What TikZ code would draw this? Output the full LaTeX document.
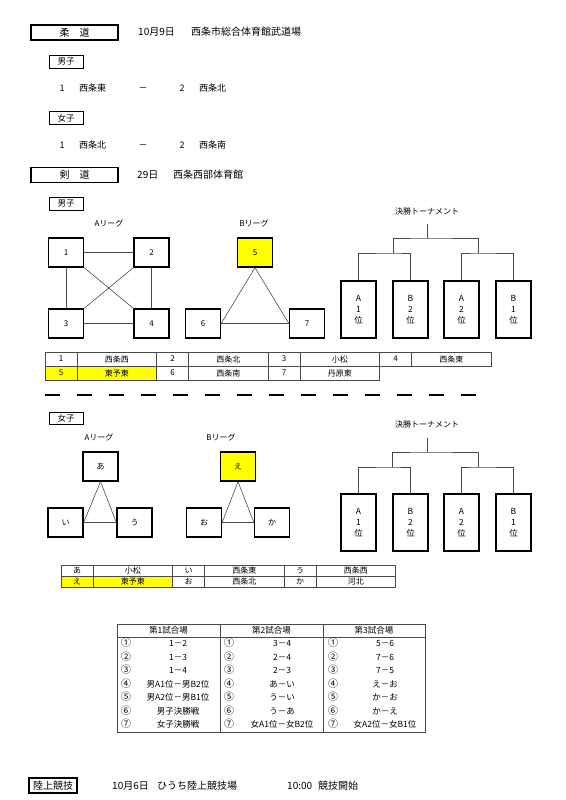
\documentclass[tikz,border=0pt]{standalone}
\usepackage{fontspec}
\setmainfont{Noto Sans CJK JP}
\usepackage{xcolor}
\usepackage{tikz}
\usetikzlibrary{positioning}
\definecolor{kiiro}{HTML}{FFFF00}
\definecolor{senbai}{HTML}{4A4A4A}

\begin{document}
\begin{tikzpicture}[x=1pt, y=-1pt,
    midashi/.style={draw, line width=1.3pt, inner sep=0pt, minimum width=87, minimum height=15, font=\fontsize{10}{11}\selectfont},
    honbun/.style={anchor=west, inner sep=0pt, text height=7.5pt, text depth=1.5pt, font=\fontsize{10}{11}\selectfont},
    meisho/.style={inner sep=0pt, text height=7pt, text depth=1.5pt, font=\fontsize{9}{11}\selectfont},
    kubun/.style={draw, line width=0.6pt, inner sep=0pt, minimum width=34, minimum height=13, font=\fontsize{8.5}{10}\selectfont},
    waku/.style={draw, line width=1.3pt, inner sep=0pt, minimum width=35, minimum height=29, font=\fontsize{8}{10}\selectfont},
    jun/.style={draw, line width=1.3pt, inner sep=0pt, minimum width=35, minimum height=57, align=center, font=\fontsize{8.5}{11}\selectfont},
    league/.style={inner sep=0pt, font=\fontsize{8}{10}\selectfont},
    sen/.style={draw=senbai, line width=0.6pt},
    kazu/.style={draw=senbai, line width=0.6pt, inner sep=0pt, minimum width=32, minimum height=14, font=\fontsize{8}{10}\selectfont},
    namae/.style={kazu, minimum width=79.5},
    chumoku/.style={fill=kiiro},
    hyo/.style={draw=senbai, line width=0.8pt, inner sep=0pt, font=\fontsize{8.5}{10}\selectfont},
    kumi/.style={inner sep=0pt, text height=6.5pt, text depth=1.5pt, font=\fontsize{8.5}{10}\selectfont},
    maru/.style={kumi, anchor=west, font=\fontsize{10}{10}\selectfont}
]
    \useasboundingbox (0,0) rectangle (565,800);

    % 柔道
    \node[midashi] (judo) at (74.5,32.5) {柔　道};
    \node[honbun] (judohi) at (138,32.5) {10月9日};
    \node[honbun] (judobasho) at (191,32.5) {西条市総合体育館武道場};

    \node[kubun] (jdan) at (66,61.5) {男子};
    \node[meisho] (jd1) at (62,89) {1};
    \node[meisho, anchor=west] (jd1t) at (79,89) {西条東};
    \node[meisho] (jdsen) at (143,89) {－};
    \node[meisho] (jd2) at (182,89) {2};
    \node[meisho, anchor=west] (jd2t) at (199,89) {西条北};

    \node[kubun] (jjo) at (66,118) {女子};
    \node[meisho] (jj1) at (62,146) {1};
    \node[meisho, anchor=west] (jj1t) at (79,146) {西条北};
    \node[meisho] (jjsen) at (143,146) {－};
    \node[meisho] (jj2) at (182,146) {2};
    \node[meisho, anchor=west] (jj2t) at (199,146) {西条南};

    % 剣道 男子
    \node[midashi] (kendo) at (74.5,175) {剣　道};
    \node[honbun] (kendohi) at (137,175) {29日};
    \node[honbun] (kendobasho) at (173,175) {西条西部体育館};

    \node[kubun] (kdan) at (66,204) {男子};
    \node[league] (dla) at (109,223) {Aリーグ};
    \node[league] (dlb) at (254,223) {Bリーグ};

    \node[waku] (a1) at (66,252.5) {1};
    \node[waku] (a2) at (151.5,252.5) {2};
    \node[waku] (a3) at (66,323.5) {3};
    \node[waku] (a4) at (151.5,323.5) {4};
    \node[waku, chumoku] (b5) at (255,252.5) {5};
    \node[waku] (b6) at (203,323.5) {6};
    \node[waku] (b7) at (307,323.5) {7};

    \draw[sen] (a1) -- (a2);
    \draw[sen] (a1) -- (a3);
    \draw[sen] (a2) -- (a4);
    \draw[sen] (a3) -- (a4);
    \draw[sen] (a1.south east) -- (a4.north west);
    \draw[sen] (a2.south west) -- (a3.north east);
    \draw[sen] (b5.south) -- (b6.east);
    \draw[sen] (b5.south) -- (b7.west);
    \draw[sen] (b6) -- (b7);

    \node[league] (dkessho) at (427,211) {決勝トーナメント};
    \node[jun] (dta1) at (358.5,309.5) {A\\1\\位};
    \node[jun] (dtb2) at (410.5,309.5) {B\\2\\位};
    \node[jun] (dta2) at (461.5,309.5) {A\\2\\位};
    \node[jun] (dtb1) at (513.5,309.5) {B\\1\\位};
    \coordinate (dkL) at (393,253);
    \coordinate (dkR) at (478,253);
    \coordinate (dkT) at (427,238);
    \coordinate (dkS) at (427,224);
    \draw[sen] (dta1.north) |- (dkL) -| (dtb2.north);
    \draw[sen] (dta2.north) |- (dkR) -| (dtb1.north);
    \draw[sen] (dkL) |- (dkT) -| (dkR);
    \draw[sen] (dkT) -- (dkS);

    \node[kazu] (dn1) at (61,359) {1};
    \node[namae] (dt1) at (116.75,359) {西条西};
    \node[kazu] (dn2) at (172.5,359) {2};
    \node[namae] (dt2) at (228.25,359) {西条北};
    \node[kazu] (dn3) at (284,359) {3};
    \node[namae] (dt3) at (339.75,359) {小松};
    \node[kazu] (dn4) at (395.5,359) {4};
    \node[namae] (dt4) at (451.25,359) {西条東};
    \node[kazu, chumoku] (dn5) at (61,373) {5};
    \node[namae, chumoku] (dt5) at (116.75,373) {東予東};
    \node[kazu] (dn6) at (172.5,373) {6};
    \node[namae] (dt6) at (228.25,373) {西条南};
    \node[kazu] (dn7) at (284,373) {7};
    \node[namae] (dt7) at (339.75,373) {丹原東};

    \coordinate (kugiriL) at (45,395);
    \coordinate (kugiriR) at (477,395);
    \draw[line width=1.8pt, dash pattern=on 15pt off 17pt] (kugiriL) -- (kugiriR);

    % 剣道 女子
    \node[kubun, minimum height=12] (kjo) at (66,418) {女子};
    \node[league] (jla) at (99,437) {Aリーグ};
    \node[league] (jlb) at (221,437) {Bリーグ};

    \node[waku] (wa) at (100.5,466.5) {あ};
    \node[waku] (wi) at (65.5,522.5) {い};
    \node[waku] (wu) at (134.5,522.5) {う};
    \node[waku, chumoku] (we) at (238,466.5) {え};
    \node[waku] (wo) at (204,522.5) {お};
    \node[waku] (wk) at (272,522.5) {か};

    \draw[sen] (wa.south) -- (wi.east);
    \draw[sen] (wa.south) -- (wu.west);
    \draw[sen] (wi) -- (wu);
    \draw[sen] (we.south) -- (wo.east);
    \draw[sen] (we.south) -- (wk.west);
    \draw[sen] (wo) -- (wk);

    \node[league] (jkessho) at (427,424) {決勝トーナメント};
    \node[jun] (jta1) at (358.5,522.5) {A\\1\\位};
    \node[jun] (jtb2) at (410.5,522.5) {B\\2\\位};
    \node[jun] (jta2) at (461.5,522.5) {A\\2\\位};
    \node[jun] (jtb1) at (513.5,522.5) {B\\1\\位};
    \coordinate (jkL) at (392,467);
    \coordinate (jkR) at (478,467);
    \coordinate (jkT) at (427,452);
    \coordinate (jkS) at (427,438);
    \draw[sen] (jta1.north) |- (jkL) -| (jtb2.north);
    \draw[sen] (jta2.north) |- (jkR) -| (jtb1.north);
    \draw[sen] (jkL) |- (jkT) -| (jkR);
    \draw[sen] (jkT) -- (jkS);

    \begin{scope}[kazu/.append style={minimum height=11}]
        \node[kazu] (jn1) at (77,570.5) {あ};
        \node[namae] (jt1) at (132.75,570.5) {小松};
        \node[kazu] (jn2) at (188.5,570.5) {い};
        \node[namae] (jt2) at (244.25,570.5) {西条東};
        \node[kazu] (jn3) at (300,570.5) {う};
        \node[namae] (jt3) at (355.75,570.5) {西条西};
        \node[kazu, chumoku] (jn4) at (77,581.5) {え};
        \node[namae, chumoku] (jt4) at (132.75,581.5) {東予東};
        \node[kazu] (jn5) at (188.5,581.5) {お};
        \node[namae] (jt5) at (244.25,581.5) {西条北};
        \node[kazu] (jn6) at (300,581.5) {か};
        \node[namae] (jt6) at (355.75,581.5) {河北};
    \end{scope}

    % 試合順
    \node[hyo, minimum width=103, minimum height=13] (shiai1) at (168.5,630.5) {第1試合場};
    \node[hyo, minimum width=103, minimum height=13] (shiai2) at (271.5,630.5) {第2試合場};
    \node[hyo, minimum width=102, minimum height=13] (shiai3) at (374,630.5) {第3試合場};
    \node[hyo, minimum width=103, minimum height=95] (ran1) at (168.5,684.5) {};
    \node[hyo, minimum width=103, minimum height=95] (ran2) at (271.5,684.5) {};
    \node[hyo, minimum width=102, minimum height=95] (ran3) at (374,684.5) {};

    \foreach \m/\p/\q/\r [count=\i, evaluate=\i as \yy using 630.5+13.5*\i] in
        {①/1－2/3－4/5－6, ②/1－3/2－4/7－6, ③/1－4/2－3/7－5,
         ④/男A1位－男B2位/あ－い/え－お, ⑤/男A2位－男B1位/う－い/か－お,
         ⑥/男子決勝戦/う－あ/か－え, ⑦/女子決勝戦/女A1位－女B2位/女A2位－女B1位} {
        \node[maru] (ma\i) at (121,\yy) {\m};
        \node[kumi] (pa\i) at (178,\yy) {\p};
        \node[maru] (mb\i) at (224,\yy) {\m};
        \node[kumi] (pb\i) at (282,\yy) {\q};
        \node[maru] (mc\i) at (328,\yy) {\m};
        \node[kumi] (pc\i) at (385,\yy) {\r};
    }

    % 陸上競技
    \node[midashi, minimum width=48] (rikujo) at (53,785.5) {陸上競技};
    \node[honbun] (rikujohi) at (112,786) {10月6日};
    \node[honbun] (rikujobasho) at (157,786) {ひうち陸上競技場};
    \node[honbun] (rikujoji) at (287,786) {10:00};
    \node[honbun] (rikujokaishi) at (318,786) {競技開始};
\end{tikzpicture}
\end{document}
